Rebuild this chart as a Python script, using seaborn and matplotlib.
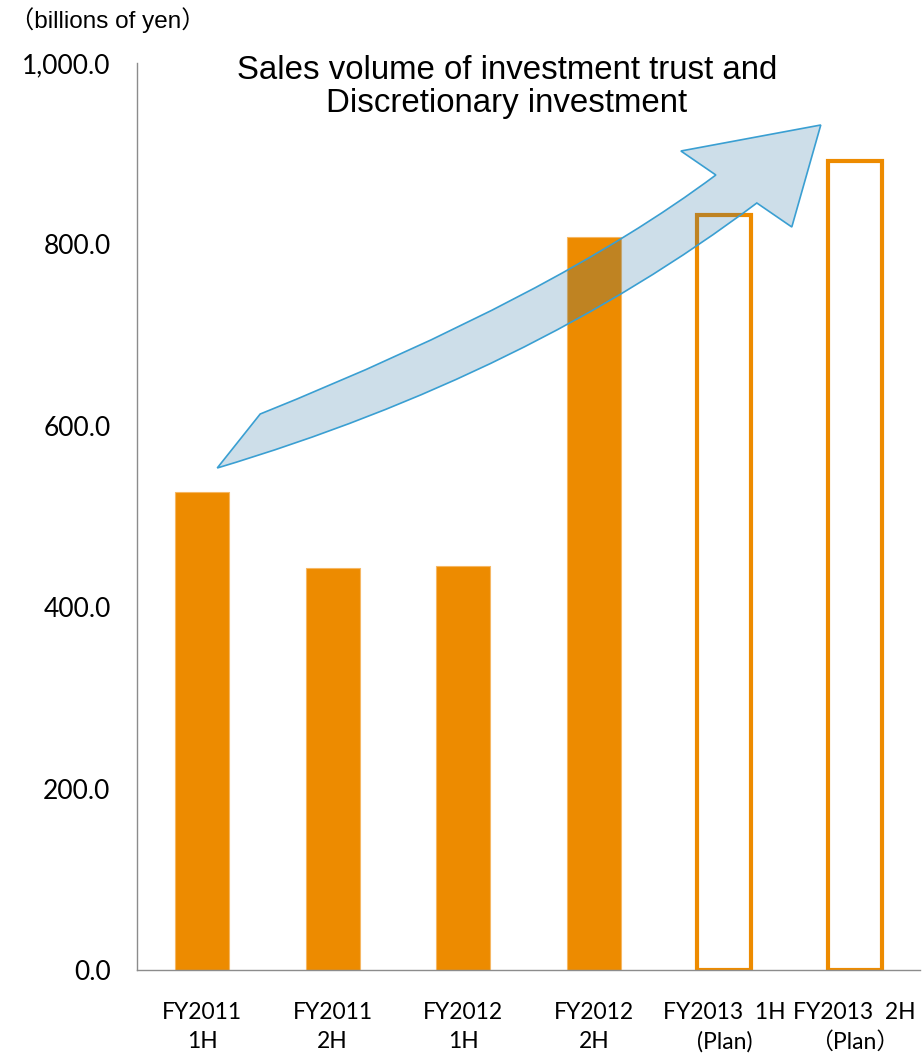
import matplotlib
matplotlib.use("Agg")
import matplotlib.pyplot as plt
from matplotlib.path import Path
from matplotlib.patches import PathPatch
from matplotlib.ticker import FuncFormatter
import seaborn as sns
import pandas as pd

# Sales volume (billions of yen) per half-year period
periods = ["FY2011\n1H", "FY2011\n2H", "FY2012\n1H", "FY2012\n2H",
           "FY2013  1H\n(Plan)", "FY2013  2H\n（Plan）"]
sales = [527, 443, 445, 808, 832, 892]
is_plan = [False, False, False, False, True, True]
y_ticks = [0, 200, 400, 600, 800, 1000]

title_text = "Sales volume of investment trust and\nDiscretionary investment"
unit_text = "（billions of yen）"

ORANGE = "#ED8B00"
SPINE = "#8C8C8C"

sns.set_theme(style="white")
plt.rcParams["font.family"] = ["Lato", "Noto Sans CJK JP", "DejaVu Sans"]
plt.rcParams["text.color"] = "black"

fig = plt.figure(figsize=(9.24, 10.55), dpi=100)
ax = fig.add_axes([137 / 924, 1 - 970 / 1055, 783 / 924, 907 / 1055])

df = pd.DataFrame({"period": periods, "sales": sales})
sns.barplot(data=df, x="period", y="sales", color=ORANGE, saturation=1,
            width=0.41, ax=ax, edgecolor="#F6B763", linewidth=0.8)

# Planned periods are drawn as open outlines
for patch, plan in zip(ax.patches, is_plan):
    if plan:
        patch.set_facecolor("none")
        patch.set_edgecolor(ORANGE)
        patch.set_linewidth(3.0)
        patch.set_joinstyle("miter")

ax.set_xlim(-0.5, 5.5)
ax.set_ylim(0, 1000)
ax.set_yticks(y_ticks)
ax.yaxis.set_major_formatter(FuncFormatter(lambda v, _: f"{v:,.1f}"))
ax.tick_params(axis="y", length=0, pad=19, labelsize=19, labelcolor="black")
ax.tick_params(axis="x", length=0, pad=23, labelsize=16.5, labelcolor="black")
for lbl in ax.get_xticklabels():
    lbl.set_linespacing(1.45)
ax.set_xlabel("")
ax.set_ylabel("")

for side in ["top", "right"]:
    ax.spines[side].set_visible(False)
for side in ["left", "bottom"]:
    ax.spines[side].set_color(SPINE)
    ax.spines[side].set_linewidth(1.0)

# Curved growth arrow, defined in (category, value) space
def pt(px, py):
    return ((px - 202) / 130.6, (970 - py) / 0.907)

verts = [
    pt(260, 414),                       # tail, upper corner
    pt(554, 296), pt(716, 175),         # upper edge (quadratic)
    pt(681, 151),                       # upper barb
    pt(821, 125),                       # tip
    pt(792, 227),                       # lower barb
    pt(757, 203),                       # lower notch
    pt(528, 375), pt(217, 468),         # lower edge (quadratic)
    pt(260, 414),
]
codes = [Path.MOVETO, Path.CURVE3, Path.CURVE3, Path.LINETO, Path.LINETO,
         Path.LINETO, Path.LINETO, Path.CURVE3, Path.CURVE3, Path.CLOSEPOLY]
arrow_path = Path(verts, codes)
ax.add_patch(PathPatch(arrow_path, facecolor=(0.12, 0.42, 0.62, 0.22),
                       edgecolor="#3A9FD2", linewidth=1.2, zorder=5,
                       clip_on=False))

fig.text(507 / 924, 1 - 55 / 1055, title_text, ha="center", va="top",
         fontsize=23.8, color="black", family=["Liberation Sans", "DejaVu Sans"],
         linespacing=1.08)
fig.text(10 / 924, 1 - 20 / 1055, unit_text, ha="left", va="center",
         fontsize=17.5, color="black",
         family=["Liberation Sans", "Noto Sans CJK JP"])

fig.savefig("out.png", dpi=100)
